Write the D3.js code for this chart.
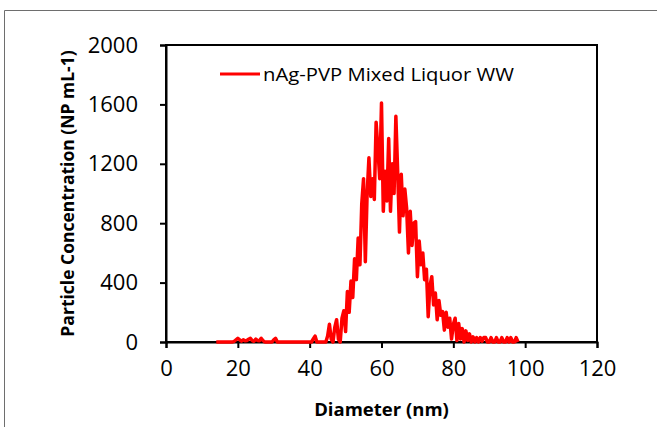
<!DOCTYPE html>
<html>
<head>
<meta charset="utf-8">
<script src="https://cdn.jsdelivr.net/npm/d3@7"></script>
<style>
  body { margin: 0; background: #fff; }
  text { font-family: "Open Sans", sans-serif; fill: #000; }
</style>
</head>
<body>
<div id="canvas" class="canvas"></div>
<script>
// --- data (0.5 nm bins from 14 to 98 nm)
var binStart = 14, binStep = 0.5;
var concentration = [
  0, 0, 0, 0, 0, 0, 0, 0, 0, 0,                          // 14 - 18.5
  5, 15, 25, 15, 5, 15, 8, 10, 18, 25,                   // 19 - 23.5
  10, 5, 20, 10, 8, 25, 10, 0, 0, 0,                     // 24 - 28.5
  0, 0, 15, 25, 0, 0, 0, 0, 0, 0,                        // 29 - 33.5
  0, 0, 0, 0, 0, 0, 0, 0, 0, 0,                          // 34 - 38.5
  0, 0, 0, 0, 20, 40, 0, 0, 0, 0,                        // 39 - 43.5
  0, 0, 40, 120, 20, 0, 100, 150, 20, 0,                 // 44 - 48.5
  160, 210, 70, 340, 200, 410, 300, 560, 420, 700,       // 49 - 53.5
  520, 930, 1100, 540, 1000, 1240, 980, 1100, 960, 1480, // 54 - 58.5
  1300, 1100, 1610, 880, 1150, 950, 1370, 880, 1200, 1000, // 59 - 63.5
  1520, 1150, 740, 1130, 850, 1030, 900, 600, 880, 650,  // 64 - 68.5
  800, 810, 440, 680, 520, 600, 420, 490, 170, 380,      // 69 - 73.5
  440, 250, 330, 150, 280, 180, 205, 80, 200, 100,       // 74 - 78.5
  160, 20, 120, 160, 10, 125, 20, 90, 0, 75,             // 79 - 83.5
  10, 55, 0, 35, 0, 30, 0, 30, 5, 30,                    // 84 - 88.5
  30, 0, 0, 30, 0, 0, 30, 0, 0, 30,                      // 89 - 93.5
  0, 0, 30, 0, 30, 0, 0, 30, 0                           // 94 - 98
];
var diameter = concentration.map(function(v, i){ return binStart + i * binStep; });

var xTicks = [0, 20, 40, 60, 80, 100, 120];
var yTicks = [0, 400, 800, 1200, 1600, 2000];
var seriesName = 'nAg-PVP Mixed Liquor WW';

// --- layout
var W = 657, H = 427;
var M = {top:45, right:60, bottom:85, left:166};
var w = 597 - M.left,
    h = 342 - M.top;

var svg = d3.select('.canvas')
    .append('svg')
    .attr('width', W)
    .attr('height', H);

// outer frame of the picture
svg.append('path')
    .attr('d', 'M4.5,' + H + 'V10.5H' + W)
    .attr('fill', 'none')
    .attr('stroke', '#6e6e6e')
    .attr('stroke-width', 1);

var plot = svg.append('g')
    .attr('transform', 'translate(' + M.left + ',' + M.top + ')');

var x = d3.scaleLinear().domain([0, 120]).range([0, w]);
var y = d3.scaleLinear().domain([0, 2000]).range([h, 0]);

// box
plot.append('rect')
    .attr('x', 0).attr('y', 0)
    .attr('width', w).attr('height', h)
    .attr('fill', 'none')
    .attr('stroke', '#000')
    .attr('stroke-width', 2);

var xAxis = plot.append('g')
    .attr('transform', 'translate(0,' + h + ')')
    .call(d3.axisBottom(x).tickValues(xTicks).tickFormat(d3.format('d')).tickSize(6).tickPadding(12));
var yAxis = plot.append('g')
    .call(d3.axisLeft(y).tickValues(yTicks).tickFormat(d3.format('d')).tickSize(6).tickPadding(22));

[xAxis, yAxis].forEach(function(a){
  a.select('.domain').attr('stroke', '#000').attr('stroke-width', 2);
  a.selectAll('.tick line').attr('stroke', '#000').attr('stroke-width', 2);
  a.selectAll('.tick text')
    .style('font-family', '"Open Sans", sans-serif')
    .style('font-size', '22px')
    .attr('fill', '#000');
});

// the series
var line = d3.line()
    .x(function(d, i){ return x(diameter[i]); })
    .y(function(d){ return y(d); });

plot.append('path')
    .datum(concentration)
    .attr('d', line)
    .attr('fill', 'none')
    .attr('stroke', '#ff0000')
    .attr('stroke-width', 3.5)
    .attr('stroke-linejoin', 'round');

// legend
plot.append('line')
    .attr('x1', 220 - M.left).attr('x2', 260 - M.left)
    .attr('y1', 74 - M.top).attr('y2', 74 - M.top)
    .attr('stroke', '#ff0000')
    .attr('stroke-width', 3);
plot.append('text')
    .attr('x', 263 - M.left)
    .attr('y', 81 - M.top)
    .style('font-size', '19px')
    .attr('textLength', 251)
    .attr('lengthAdjust', 'spacingAndGlyphs')
    .text(seriesName);

// axis titles
svg.append('text')
    .attr('x', M.left + w / 2)
    .attr('y', 416)
    .attr('text-anchor', 'middle')
    .style('font-size', '18.5px')
    .style('font-weight', 'bold')
    .text('Diameter (nm)');

svg.append('text')
    .attr('transform', 'translate(74,' + (M.top + h / 2) + ') rotate(-90)')
    .attr('text-anchor', 'middle')
    .style('font-size', '17.5px')
    .style('font-weight', 'bold')
    .text('Particle Concentration (NP mL-1)');
</script>
</body>
</html>
